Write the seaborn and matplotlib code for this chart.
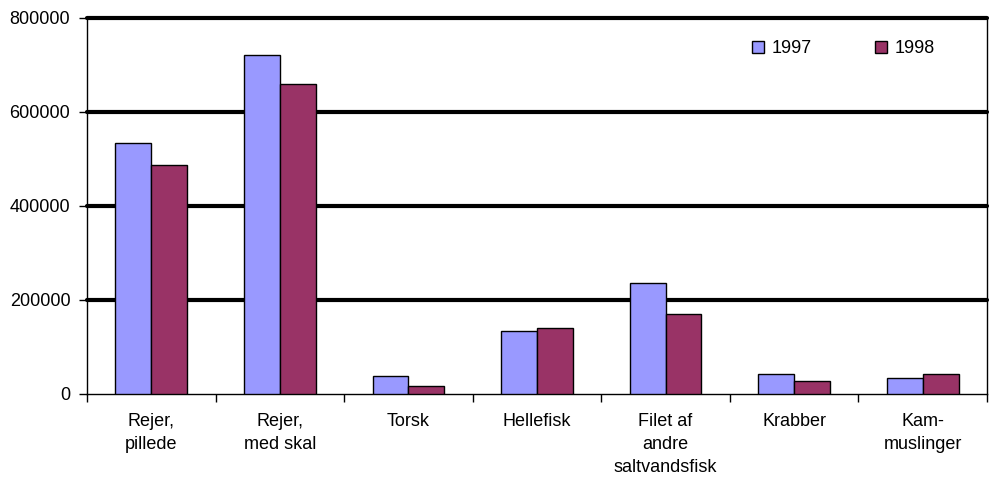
import matplotlib
matplotlib.use("Agg")
import matplotlib.pyplot as plt
import seaborn as sns
import pandas as pd

categories = ["Rejer,\npillede", "Rejer,\nmed skal", "Torsk", "Hellefisk",
              "Filet af\nandre\nsaltvandsfisk", "Krabber", "Kam-\nmuslinger"]
years = ["1997", "1998"]
values_1997 = [533000, 722000, 38000, 135000, 237000, 43000, 33000]
values_1998 = [488000, 659000, 16000, 141000, 170000, 28000, 43000]
colors = ["#9999FF", "#993366"]
yticks = [0, 200000, 400000, 600000, 800000]

df = pd.DataFrame({
    "category": categories * 2,
    "year": [years[0]] * len(categories) + [years[1]] * len(categories),
    "value": values_1997 + values_1998,
})

sns.set_style("white")
plt.rcParams["font.family"] = ["Liberation Sans", "DejaVu Sans"]
plt.rcParams["text.color"] = "black"
plt.rcParams["xtick.color"] = "black"
plt.rcParams["ytick.color"] = "black"

fig = plt.figure(figsize=(9.89, 4.78), dpi=100)
ax = fig.add_axes([87 / 989, 1 - 394 / 478, 900 / 989, 376 / 478])

sns.barplot(data=df, x="category", y="value", hue="year", palette=colors,
            edgecolor="black", linewidth=1, width=0.557, ax=ax, zorder=3,
            saturation=1)

ax.set_ylim(0, 800000)
ax.set_xlim(-0.5, len(categories) - 0.5)
ax.set_yticks(yticks)
ax.set_yticklabels([str(v) for v in yticks])
for v in yticks[1:]:
    ax.axhline(v, color="black", linewidth=3, zorder=1, clip_on=False)

ax.set_xlabel("")
ax.set_ylabel("")
ax.tick_params(axis="x", which="major", length=0, pad=14, labelsize=13, labelcolor="black")
for lbl in ax.get_xticklabels():
    lbl.set_linespacing(1.45)
ax.set_xticks([i - 0.5 for i in range(len(categories) + 1)], minor=True)
ax.tick_params(axis="x", which="minor", length=6, width=1, color="black", direction="out")
ax.tick_params(axis="y", length=6, width=1, color="black", direction="out",
               labelsize=13, pad=6, labelcolor="black")
ax.tick_params(bottom=True, left=True, which="both")

for side in ["left", "bottom", "right"]:
    ax.spines[side].set_visible(True)
    ax.spines[side].set_color("black")
    ax.spines[side].set_linewidth(1)
ax.spines["top"].set_visible(False)

leg = ax.legend(loc="upper left", bbox_to_anchor=(649 / 900, 0.985), ncol=2,
                frameon=False, fontsize=13, handlelength=0.65, handleheight=0.65,
                handletextpad=0.4, columnspacing=3.55)
for h in leg.legend_handles:
    h.set_edgecolor("black")
    h.set_linewidth(1)
for t in leg.get_texts():
    t.set_color("black")

fig.savefig("out.png", dpi=100)
